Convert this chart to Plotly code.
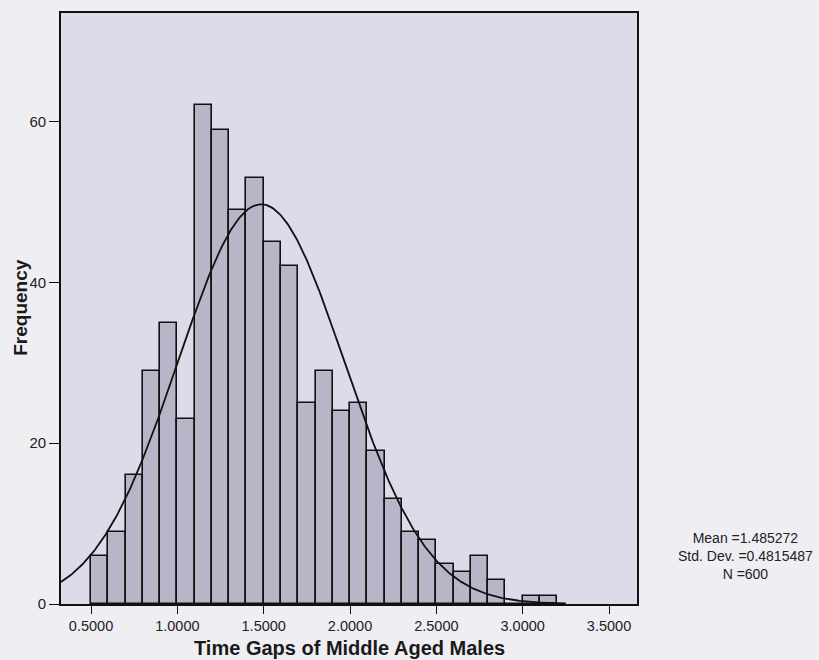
import numpy as np
import plotly.graph_objects as go

# Histogram bins (left edges, width 0.1) and counts
bin_left = [0.5, 0.6, 0.7, 0.8, 0.9, 1.0, 1.1, 1.2, 1.3, 1.4, 1.5, 1.6, 1.7,
            1.8, 1.9, 2.0, 2.1, 2.2, 2.3, 2.4, 2.5, 2.6, 2.7, 2.8, 2.9, 3.0, 3.1]
counts = [6, 9, 16, 29, 35, 23, 62, 59, 49, 53, 45, 42, 25,
          29, 24, 25, 19, 13, 9, 8, 5, 4, 6, 3, 0, 1, 1]
bin_width = 0.1

# Summary statistics
mean = 1.485272
std_dev = 0.4815487
n_obs = 600

x_ticks = [0.5, 1.0, 1.5, 2.0, 2.5, 3.0, 3.5]
y_ticks = [0, 20, 40, 60]

x_range = [0.326, 3.662]
y_range = [0, 73.5]

centers = [b + bin_width / 2 for b in bin_left]

# Fitted normal curve scaled to counts
xs = np.linspace(x_range[0], 3.25, 400)
ys = n_obs * bin_width * np.exp(-0.5 * ((xs - mean) / std_dev) ** 2) / (std_dev * np.sqrt(2 * np.pi))

fig = go.Figure()
fig.add_trace(go.Bar(
    x=centers, y=counts, width=bin_width,
    marker=dict(color="#b7b6c9", line=dict(color="#111111", width=1.6)),
    hoverinfo="x+y",
))
fig.add_trace(go.Scatter(
    x=xs, y=ys, mode="lines",
    line=dict(color="#111111", width=1.8),
    hoverinfo="skip",
))

font_family = "Liberation Sans, Arial, sans-serif"
plot_top, plot_bottom, plot_left, plot_right = 11, 604.5, 61, 637

fig.update_layout(
    width=819, height=660,
    margin=dict(l=plot_left, r=819 - plot_right, t=plot_top, b=660 - plot_bottom),
    paper_bgcolor="#efeff3",
    plot_bgcolor="#dcdbea",
    showlegend=False,
    bargap=0,
    font=dict(family=font_family, size=14, color="#222222"),
    xaxis=dict(
        range=x_range, tickvals=x_ticks, tickformat=".4f",
        showgrid=False, zeroline=False,
        showline=True, linecolor="#111111", linewidth=1.6, mirror=True,
        ticks="outside", ticklen=8, tickcolor="#111111", tickwidth=1.4,
        tickfont=dict(size=14.5, family=font_family, color="#222222"),
    ),
    yaxis=dict(
        range=y_range, tickvals=y_ticks,
        showgrid=False, zeroline=False,
        showline=True, linecolor="#111111", linewidth=1.6, mirror=True,
        ticks="outside", ticklen=10, tickcolor="#111111", tickwidth=1.4,
        tickfont=dict(size=15, family=font_family, color="#222222"),
    ),
)

# Axis titles
fig.add_annotation(
    xref="paper", yref="paper", x=0.5, y=0, yshift=-(648 - plot_bottom),
    text="<b>Time Gaps of Middle Aged Males</b>", showarrow=False,
    xanchor="center", yanchor="middle",
    font=dict(size=20, family=font_family, color="#1a1a1a"),
)
fig.add_annotation(
    xref="paper", yref="paper", x=0, y=(plot_bottom - 307) / (plot_bottom - plot_top),
    xshift=-(plot_left - 21), textangle=-90,
    text="<b>Frequency</b>", showarrow=False,
    xanchor="center", yanchor="middle",
    font=dict(size=19, family=font_family, color="#1a1a1a"),
)

# Summary statistics block
stats_text = f"Mean ={mean}<br>Std. Dev. ={std_dev}<br>N ={n_obs}"
fig.add_annotation(
    xref="paper", yref="paper",
    x=(745 - plot_left) / (plot_right - plot_left),
    y=(plot_bottom - 556) / (plot_bottom - plot_top),
    text=stats_text, showarrow=False, align="center",
    xanchor="center", yanchor="middle",
    font=dict(size=14, family=font_family, color="#222222"),
)

fig.write_html("out.html")
